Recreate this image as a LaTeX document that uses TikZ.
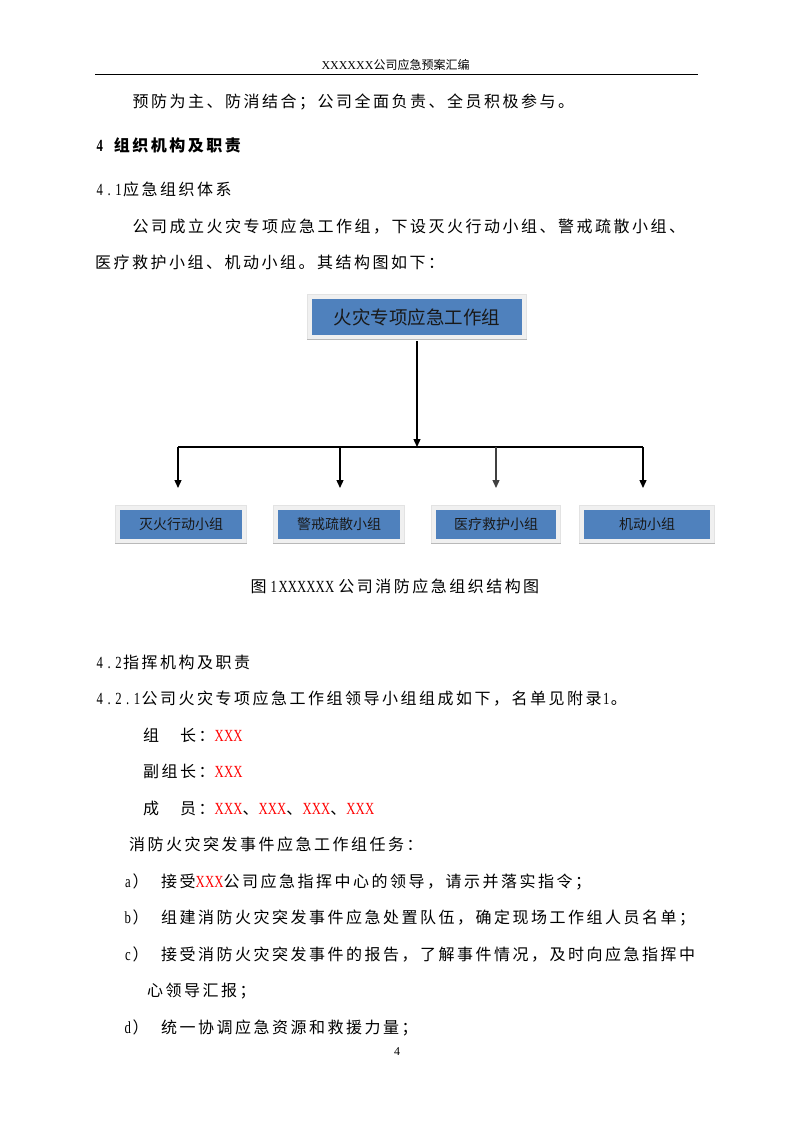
\documentclass[tikz,border=0pt]{standalone}
\usepackage{fontspec}
\setmainfont{Liberation Serif}
\newfontfamily\cjk[LetterSpace=15.6]{Noto Sans CJK SC}
\newfontfamily\cjkn{Noto Sans CJK SC}
\newfontfamily\latn[FakeStretch=0.75]{Liberation Serif}
\usetikzlibrary{arrows.meta,backgrounds,calc}
\definecolor{boxblue}{RGB}{79,129,189}
\definecolor{framegray}{RGB}{240,240,240}
\definecolor{xred}{RGB}{255,0,0}
\definecolor{txtdark}{RGB}{25,25,25}
\makeatletter
\newcommand\hw[1]{{\latn\fontsize{17}{19}\selectfont\hw@loop#1\relax}}
\def\hw@loop#1{\ifx#1\relax\else\makebox[9.3pt]{#1}\expandafter\hw@loop\fi}
\makeatother
\newcommand\rx[1]{{\color{xred}\hw{#1}}}
\tikzset{
  body/.style={anchor=base west, inner sep=0pt, font=\cjk\fontsize{16}{19}\selectfont},
  headb/.style={body, font=\cjk\fontsize{16}{19}\selectfont\bfseries},
  topbox/.style={rectangle, fill=boxblue, inner sep=0pt, minimum width=210pt, minimum height=36pt,
    text=txtdark, font=\cjkn\fontsize{18.5}{20}\selectfont},
  subbox/.style={rectangle, fill=boxblue, inner sep=0pt, minimum height=29pt,
    text=txtdark, font=\cjkn\fontsize{14}{16}\selectfont},
  conn/.style={line width=1.3pt, draw=black},
  arrowc/.style={conn, -{Triangle[length=8pt,width=7pt]}},
}
\begin{document}
\begin{tikzpicture}[x=1pt,y=-1pt]
\useasboundingbox (0,0) rectangle (793,1122);

% header
\node[anchor=base, inner sep=0pt] (hdr) at (395.5,69.5) {\fontsize{12}{14}\selectfont XXXXXX{\cjkn 公司应急预案汇编}};
\coordinate (rl) at (95,74);
\coordinate (rr) at (698,74);
\draw[line width=0.9pt] (rl) -- (rr);

% upper text
\node[body] (l1) at (132.5,107.5) {预防为主、防消结合；公司全面负责、全员积极参与。};
\node[headb] (h4) at (95,151) {\hw{4}\hspace{9.3pt}组织机构及职责};
\node[body] (h41) at (95,195) {\hw{4.1}应急组织体系};
\node[body] (p1) at (132.5,232) {公司成立火灾专项应急工作组，下设灭火行动小组、警戒疏散小组、};
\node[body] (p2) at (95,268) {医疗救护小组、机动小组。其结构图如下：};

% diagram
\node[topbox] (top) at (417,317) {火灾专项应急工作组};
\node[subbox, minimum width=122pt] (b1) at (181,524.5) {灭火行动小组};
\node[subbox, minimum width=122pt] (b2) at (339,524.5) {警戒疏散小组};
\node[subbox, minimum width=120pt] (b3) at (496,524.5) {医疗救护小组};
\node[subbox, minimum width=126pt] (b4) at (647,524.5) {机动小组};

\begin{scope}[on background layer]
  \fill[white] (0,0) rectangle (793,1122);
  \foreach \n in {top,b1,b2,b3,b4}{
    \fill[framegray] ($(\n.south west)+(-4.5,4.5)$) rectangle ($(\n.north east)+(4.5,-4.5)$);
    \draw[gray!22, line width=0.6pt] ($(\n.south west)+(-4.5,4.5)$) rectangle ($(\n.north east)+(4.5,-4.5)$);
    \draw[gray!55, line width=1.5pt] ($(\n.south west)+(-4.5,4.5)$) -- ($(\n.south east)+(4.5,4.5)$);
  }
\end{scope}

\coordinate (hub) at (417,447);
\draw[arrowc, shorten <=6pt] (top.south) -- (hub);
\coordinate (j1) at (178,447);
\coordinate (j2) at (340,447);
\coordinate (j3) at (496,447);
\coordinate (j4) at (643,447);
\coordinate (e1) at (178,488);
\coordinate (e2) at (340,488);
\coordinate (e3) at (496,488);
\coordinate (e4) at (643,488);
\draw[conn] (j1) -- (j4);
\draw[arrowc] (j1) -- (e1);
\draw[arrowc] (j2) -- (e2);
\draw[arrowc, draw=black!75] (j3) -- (e3);
\draw[arrowc] (j4) -- (e4);

% caption
\node[anchor=base west, inner sep=0pt] (cap) at (250.5,592) {{\cjk\fontsize{16}{19}\selectfont 图}\hspace{2.5pt}\hw{1XXXXXX}\hspace{4pt}{\cjk\fontsize{16}{19}\selectfont 公司消防应急组织结构图}};

% lower text
\node[body] (h42) at (95,668) {\hw{4.2}指挥机构及职责};
\node[body] (h421) at (95,704.5) {\hw{4.2.1}公司火灾专项应急工作组领导小组组成如下，名单见附录\hw{1}。};
\node[body] (zz) at (143,741) {组　长：\rx{XXX}};
\node[body] (fz) at (143,777.5) {副组长：\rx{XXX}};
\node[body] (cy) at (143,814) {成　员：\rx{XXX}、\rx{XXX}、\rx{XXX}、\rx{XXX}};
\node[body] (rw) at (129,850.5) {消防火灾突发事件应急工作组任务：};
\node[body] (la) at (123,887) {\hw{a}）};
\node[body] (ta) at (161,887) {接受\rx{XXX}公司应急指挥中心的领导，请示并落实指令；};
\node[body] (lb) at (123,923.5) {\hw{b}）};
\node[body] (tb) at (161,923.5) {组建消防火灾突发事件应急处置队伍，确定现场工作组人员名单；};
\node[body] (lc) at (123,960) {\hw{c}）};
\node[body] (tc) at (161,960) {接受消防火灾突发事件的报告，了解事件情况，及时向应急指挥中};
\node[body] (tc2) at (147,996.5) {心领导汇报；};
\node[body] (ld) at (123,1033) {\hw{d}）};
\node[body] (td) at (161,1033) {统一协调应急资源和救援力量；};

% page number
\node[anchor=base, inner sep=0pt] (pg) at (397,1055) {\fontsize{12}{14}\selectfont 4};
\end{tikzpicture}
\end{document}
